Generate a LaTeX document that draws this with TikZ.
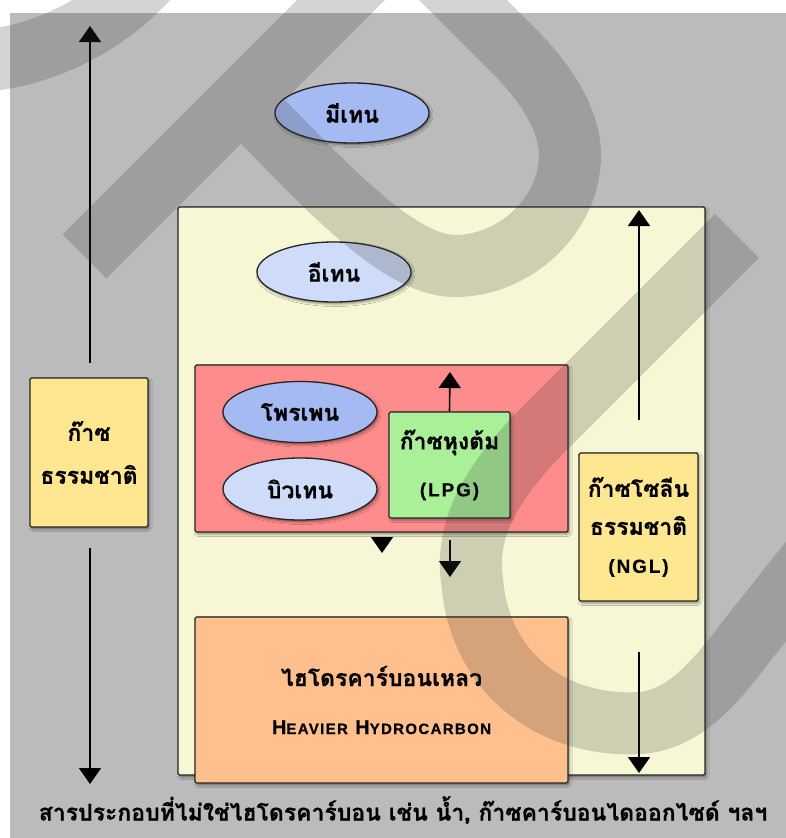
\documentclass[tikz,border=0pt]{standalone}
\usepackage{fontspec}
\setmainfont{Liberation Sans}
\newfontfamily\thaifont[Script=Thai,BoldFeatures={FakeBold=0.5}]{Loma}
\usetikzlibrary{shapes.geometric,arrows.meta,shadows.blur}
\definecolor{bggrey}{RGB}{187,187,187}
\definecolor{cream}{RGB}{248,247,213}
\definecolor{goldbox}{RGB}{255,230,145}
\definecolor{pinkbox}{RGB}{255,140,140}
\definecolor{greenbox}{RGB}{170,240,152}
\definecolor{orangebox}{RGB}{255,192,142}
\definecolor{periw}{RGB}{165,186,242}
\definecolor{periwl}{RGB}{206,219,249}
\definecolor{wmark}{RGB}{54,54,54}
\tikzset{
  shade/.style={blur shadow={shadow xshift=1.5pt, shadow yshift=-2pt, shadow blur radius=2.5pt, shadow opacity=45}},
  boxy/.style={shade, draw=black!85, line width=1.3pt, rounded corners=1.5pt, inner sep=0pt, align=center},
  oval/.style={shade, ellipse, draw=black!85, line width=1.3pt, inner sep=0pt, minimum width=154pt, minimum height=60pt},
  thai/.style={font=\thaifont\bfseries\fontsize{23}{40}\selectfont},
  arr/.style={line width=1.6pt, -{Triangle[width=22pt,length=16pt]}},
  wm/.style={draw=wmark, draw opacity=0.21, line width=62pt}
}
\newcommand{\engtxt}[1]{{\rmfamily\bfseries\fontsize{19}{22}\selectfont\addfontfeature{LetterSpace=10,FakeBold=0.4}#1}}
\begin{document}
\begin{tikzpicture}[x=1pt,y=-1pt]
\useasboundingbox (0,0) rectangle (786,838);
\fill[white] (0,0) rectangle (786,838);
\fill[bggrey] (10,13) rectangle (786,838);

% outer NGL region
\node[boxy, fill=cream, minimum width=527pt, minimum height=568pt] (outer) at (441.5,491) {};

% natural gas box
\node[boxy, fill=goldbox, minimum width=118pt, minimum height=149pt, font=\thaifont\bfseries\fontsize{23}{43}\selectfont] (gas) at (89,452.5) {ก๊าซ\\ธรรมชาติ};
\coordinate (g1) at (90,363);
\coordinate (g2) at (90,26);
\coordinate (g3) at (90,548);
\coordinate (g4) at (90,784);
\draw[arr] (g1) -- (g2);
\draw[arr] (g3) -- (g4);

% methane, ethane
\node[oval, fill=periw, thai] (methane) at (352,113) {มีเทน};
\node[oval, fill=periwl, thai] (ethane) at (334,272) {อีเทน};

% LPG region
\node[boxy, fill=pinkbox, minimum width=373pt, minimum height=167pt] (pink) at (381.5,448.5) {};
\node[oval, fill=periw, thai, minimum height=61pt] (propane) at (300,412) {โพรเพน};
\node[oval, fill=periwl, thai, minimum height=62pt] (butane) at (300,489) {บิวเทน};
\node[boxy, fill=greenbox, minimum width=121pt, minimum height=106pt, font=\thaifont\bfseries\fontsize{23}{47}\selectfont] (lpg) at (449.5,465) {ก๊าซหุงต้ม\\\engtxt{(LPG)}};
\coordinate (l1) at (450,372);
\draw[arr] (lpg.north) -- (l1);
\coordinate (p1) at (450,540);
\coordinate (p2) at (450,577);
\draw[arr] (p1) -- (p2);
\coordinate (t1) at (382,537);
\coordinate (t2) at (382,553);
\draw[arr] (t1) -- (t2);

% NGL box
\node[boxy, fill=goldbox, minimum width=119pt, minimum height=148pt, font=\thaifont\bfseries\fontsize{23}{38}\selectfont] (ngl) at (638.5,527) {ก๊าซโซลีน\\ธรรมชาติ\\\engtxt{(NGL)}};
\coordinate (n1) at (639,420);
\coordinate (n2) at (639,210);
\coordinate (n3) at (639,652);
\coordinate (n4) at (639,773);
\draw[arr] (n1) -- (n2);
\draw[arr] (n3) -- (n4);

% heavier hydrocarbon
\node[boxy, fill=orangebox, minimum width=373pt, minimum height=166pt, font=\thaifont\bfseries\fontsize{23}{47}\selectfont] (heavy) at (381.5,700) {ไฮโดรคาร์บอนเหลว\\[1pt]{\rmfamily\bfseries\addfontfeature{LetterSpace=9,FakeBold=0.4}\fontsize{20}{22}\selectfont H{\fontsize{15}{22}\selectfont EAVIER} H{\fontsize{15}{22}\selectfont YDROCARBON}}};

% bottom caption
\node[thai, inner sep=0pt] (caption) at (403,810) {สารประกอบที่ไม่ใช่ไฮโดรคาร์บอน เช่น น้ำ, ก๊าซคาร์บอนไดออกไซด์ ฯลฯ};

% watermark
\begin{scope}
\clip (0,0) rectangle (786,838);
\draw[wm] (-43.5,-197.6) circle[radius=260];
\draw[wm, line join=miter] (84.5,256.5) -- (402,-61) -- (515,52) .. controls (545,82) and (570,120) .. (570,155) .. controls (570,215) and (515,266) .. (455,266) .. controls (400,266) and (330,190) .. (262,121);
\draw[wm] (737,236) -- (545,428) .. controls (490,483) and (465,530) .. (472,580) .. controls (480,680) and (560,728) .. (640,723) .. controls (680,720) and (710,690) .. (745,643) -- (830,536);
\end{scope}
\end{tikzpicture}
\end{document}
